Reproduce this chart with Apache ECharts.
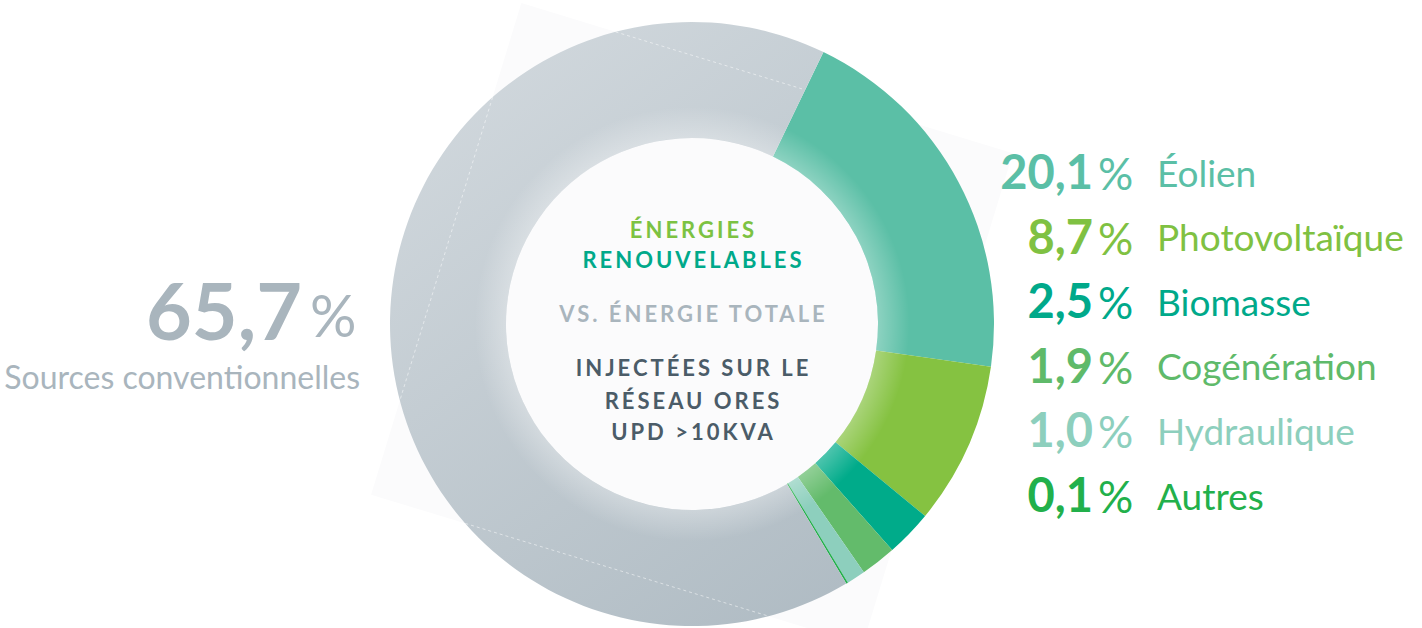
<!DOCTYPE html>
<html><head><meta charset="utf-8">
<script src="https://cdn.jsdelivr.net/npm/echarts@6/dist/echarts.min.js"></script>
<style>html,body{margin:0;padding:0;background:#fff}#c{width:1422px;height:628px}</style>
</head><body><div id="c"></div>
<script>
// ---- data ----
const categories = ['Éolien', 'Photovoltaïque', 'Biomasse', 'Cogénération', 'Hydraulique', 'Autres', 'Sources conventionnelles'];
const values = [20.1, 8.7, 2.5, 1.9, 1.0, 0.1, 65.7];
const sliceColors = ['#5bbfa6', '#85c241', '#00ab8a', '#63bb6b', '#8dcfbd', '#22b04b', '#c3ccd2'];
const textColors = ['#5bbfa6', '#7fc142', '#00a98a', '#5fba6a', '#8dcfbd', '#22b04b', '#a9b5bd'];
const centerLines = ['ÉNERGIES', 'RENOUVELABLES', 'VS. ÉNERGIE TOTALE', 'INJECTÉES SUR LE', 'RÉSEAU ORES', 'UPD >10KVA'];
const centerColors = ['#7cc242', '#00a98a', '#a9b5bd', '#4b5c68', '#4b5c68', '#4b5c68'];

// ---- layout ----
const CX = 692, CY = 324, R0 = 186, R1 = 302;
const START = 64.2;            // echarts startAngle (deg, ccw from 3 o'clock)
const FONT = 'Lato, "Open Sans", sans-serif';
const SP = 3;                  // letter spacing of centre text

const fmt = v => v.toFixed(1).replace('.', ',');

const chart = echarts.init(document.getElementById('c'), null, { renderer: 'svg' });

const data = categories.map((n, i) => {
  let color = sliceColors[i];
  if (i === categories.length - 1) {
    color = { type: 'linear', x: 450, y: 60, x2: 860, y2: 610, global: true,
      colorStops: [{ offset: 0, color: '#d1d8dd' }, { offset: 1, color: '#afbbc3' }] };
  }
  return { name: n, value: values[i], itemStyle: { color } };
});

const elements = [];
// background rotated square
const ang = 17 * Math.PI / 180, half = 257;
const dir = [Math.cos(ang), Math.sin(ang)], nor = [-Math.sin(ang), Math.cos(ang)];
const corner = (a, b) => [CX + a * half * dir[0] + b * half * nor[0], CY + a * half * dir[1] + b * half * nor[1]];
elements.push({ type: 'polygon', z: -100, silent: true,
  shape: { points: [corner(-1, -1), corner(1, -1), corner(1, 1), corner(-1, 1)] },
  style: { fill: '#fbfbfc' } });

// inner glow over the ring
elements.push({ type: 'ring', z: 50, silent: true,
  shape: { cx: CX, cy: CY, r: R1, r0: R0 },
  style: { fill: { type: 'radial', x: CX, y: CY, r: R1, global: true,
    colorStops: [{ offset: R0 / R1, color: 'rgba(255,255,255,0.3)' }, { offset: 0.72, color: 'rgba(255,255,255,0)' }, { offset: 1, color: 'rgba(255,255,255,0)' }] } } });

// dashed square edges, only where they lie over the grey slice
const totalOther = values.slice(0, -1).reduce((a, b) => a + b, 0);
const topStart = 90 - START;
const grayFrom = topStart + 360 * totalOther / 100, grayTo = topStart + 360;
function inGray(p) {
  const dx = p[0] - CX, dy = p[1] - CY;
  const r = Math.hypot(dx, dy);
  if (r < R0 || r > R1) return false;
  let a = Math.atan2(dx, -dy) * 180 / Math.PI; if (a < 0) a += 360;
  if (a < grayFrom) a += 360;
  return a >= grayFrom && a <= grayTo;
}
[[nor, -1, dir], [dir, -1, nor], [nor, 1, dir]].forEach(([n, sgn, t]) => {
  const foot = [CX + sgn * half * n[0], CY + sgn * half * n[1]];
  let first = null, last = null;
  for (let s = -R1; s <= R1; s += 0.5) {
    const p = [foot[0] + s * t[0], foot[1] + s * t[1]];
    if (inGray(p)) { if (!first) first = p; last = p; }
  }
  if (first) elements.push({ type: 'line', z: 60, silent: true,
    shape: { x1: first[0], y1: first[1], x2: last[0], y2: last[1] },
    style: { stroke: 'rgba(255,255,255,0.5)', lineWidth: 1, lineDash: [3, 3] } });
});

// right legend
const rowY0 = 171, rowGap = 64.6;
for (let i = 0; i < categories.length - 1; i++) {
  const y = rowY0 + i * rowGap;
  elements.push({ type: 'text', z: 100, silent: true, style: { text: fmt(values[i]), x: 1093, y: y,
    align: 'right', verticalAlign: 'middle', fill: textColors[i], font: `700 47px ${FONT}` } });
  elements.push({ type: 'text', z: 100, silent: true, style: { text: '%', x: 1098, y: y + 2,
    align: 'left', verticalAlign: 'middle', fill: textColors[i], font: `400 44px ${FONT}` } });
  elements.push({ type: 'text', z: 100, silent: true, style: { text: categories[i], x: 1157, y: y + 1,
    align: 'left', verticalAlign: 'middle', fill: textColors[i], font: `400 37px ${FONT}` } });
}
// left legend
const gi = categories.length - 1;
elements.push({ type: 'text', z: 100, silent: true, style: { text: fmt(values[gi]), x: 302, y: 309,
  align: 'right', verticalAlign: 'middle', fill: textColors[gi], font: `700 79px ${FONT}` } });
elements.push({ type: 'text', z: 100, silent: true, style: { text: '%', x: 310, y: 314,
  align: 'left', verticalAlign: 'middle', fill: textColors[gi], font: `400 58px ${FONT}` } });
elements.push({ type: 'text', z: 100, silent: true, style: { text: categories[gi], x: 360, y: 376,
  align: 'right', verticalAlign: 'middle', fill: textColors[gi], font: `400 32px ${FONT}` } });

// centre text
const centerY = [229, 259, 313, 367, 400, 431];
centerLines.forEach((t, i) => {
  elements.push({ type: 'text', z: 100, silent: true, style: { text: t, x: CX + SP / 2, y: centerY[i],
    align: 'center', verticalAlign: 'middle', fill: centerColors[i], font: `700 22px ${FONT}` } });
});

chart.setOption({
  animation: false,
  backgroundColor: '#ffffff',
  series: [{
    type: 'pie', center: [CX, CY], radius: [R0, R1], startAngle: START, clockwise: true,
    silent: true, label: { show: false }, labelLine: { show: false },
    itemStyle: { borderWidth: 0 }, emphasis: { disabled: true },
    data: data
  }],
  graphic: { elements: elements }
});

function applySpacing() {
  document.querySelectorAll('#c svg text').forEach(el => {
    if (centerLines.includes(el.textContent)) el.setAttribute('letter-spacing', SP + 'px');
  });
}
applySpacing();
chart.on('finished', applySpacing);
setTimeout(applySpacing, 50);
</script>
</body></html>
